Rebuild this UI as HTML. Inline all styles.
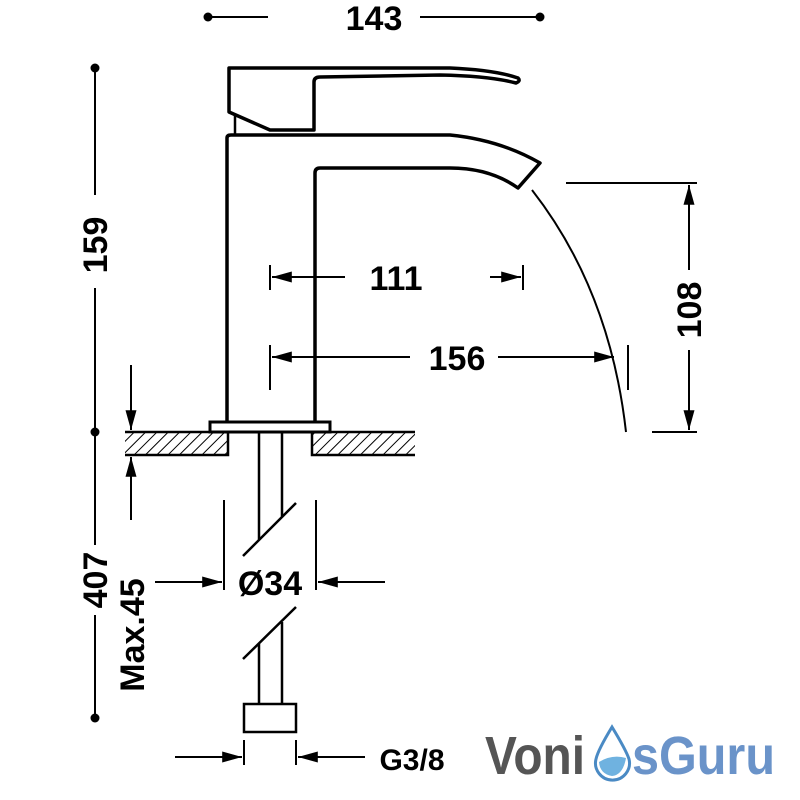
<!DOCTYPE html>
<html><head><style>body{margin:0;background:#fff}svg{display:block}</style></head><body>
<svg width="800" height="800" viewBox="0 0 800 800" xmlns="http://www.w3.org/2000/svg" font-family="Liberation Sans, sans-serif" font-weight="bold">
<defs>
<pattern id="h" width="8" height="8" patternUnits="userSpaceOnUse" patternTransform="rotate(45)"><line x1="0" y1="0" x2="0" y2="8" stroke="#000" stroke-width="2"/></pattern>
<marker id="a" viewBox="0 0 18 10" refX="18" refY="5" markerWidth="20" markerHeight="11" markerUnits="userSpaceOnUse" orient="auto"><path d="M0,0L18,5L0,10z"/></marker>
</defs>
<g fill="none" stroke="#000">
<path d="M229,68 H450 Q495,70 518,78 Q521,81 516,83 Q490,76 440,75 L320,77 Q314,77 314,82 V130 L270,130 L229,112 Z" stroke-width="3.5" stroke-linejoin="round"/>
<line x1="235" y1="115" x2="235" y2="134" stroke-width="2.5"/>
<path d="M227,422 V138 Q227,135 231,135 H450 Q500,140 540,163 L518,188 Q490,168 450,168 H320 Q315,168 315,173 V422" stroke-width="3.5" stroke-linejoin="round"/>
<rect x="210" y="422" width="120" height="10" stroke-width="3"/>
<rect x="125" y="432" width="103" height="23" fill="url(#h)" stroke="none"/>
<rect x="312" y="432" width="103" height="23" fill="url(#h)" stroke="none"/>
<path d="M125,432 H210 M330,432 H415 M125,455 H228 V432 M312,432 V455 H415" stroke-width="2.5"/>
<path d="M259,432 V540 M282,432 V517 M243,556 L296,503 M243,659 L296,607 M259,643 V705 M282,622 V705" stroke-width="2.5"/>
<rect x="244" y="704" width="52" height="28" stroke-width="2.5"/>
<path d="M532,190 Q610,290 626,432" stroke-width="2"/>
<g stroke-width="2">
<line x1="208" y1="17" x2="268" y2="17"/><line x1="420" y1="17" x2="540" y2="17"/>
<line x1="95" y1="68" x2="95" y2="195"/><line x1="95" y1="288" x2="95" y2="545"/><line x1="95" y1="615" x2="95" y2="718"/>
<line x1="131" y1="365" x2="131" y2="430" marker-end="url(#a)"/>
<line x1="131" y1="520" x2="131" y2="457" marker-end="url(#a)"/>
<line x1="270" y1="265" x2="270" y2="290"/><line x1="523" y1="265" x2="523" y2="290"/>
<line x1="345" y1="277" x2="272" y2="277" marker-end="url(#a)"/><line x1="490" y1="277" x2="521" y2="277" marker-end="url(#a)"/>
<line x1="270" y1="345" x2="270" y2="390"/><line x1="628" y1="345" x2="628" y2="390"/>
<line x1="410" y1="357" x2="272" y2="357" marker-end="url(#a)"/><line x1="498" y1="357" x2="614" y2="357" marker-end="url(#a)"/>
<line x1="566" y1="183" x2="697" y2="183"/><line x1="652" y1="432" x2="697" y2="432"/>
<line x1="689" y1="270" x2="689" y2="185" marker-end="url(#a)"/><line x1="689" y1="350" x2="689" y2="430" marker-end="url(#a)"/>
<line x1="224" y1="500" x2="224" y2="590"/><line x1="316" y1="500" x2="316" y2="590"/>
<line x1="155" y1="582" x2="222" y2="582" marker-end="url(#a)"/><line x1="385" y1="582" x2="318" y2="582" marker-end="url(#a)"/>
<line x1="244" y1="740" x2="244" y2="765"/><line x1="296" y1="740" x2="296" y2="765"/>
<line x1="175" y1="757" x2="242" y2="757" marker-end="url(#a)"/><line x1="365" y1="757" x2="298" y2="757" marker-end="url(#a)"/>
</g>
</g>
<g fill="#000">
<circle cx="208" cy="17" r="4.5"/><circle cx="540" cy="17" r="4.5"/>
<circle cx="95" cy="68" r="4.5"/><circle cx="95" cy="432" r="4.5"/><circle cx="95" cy="718" r="4.5"/>
</g>
<g font-size="34" text-anchor="middle" fill="#000">
<text x="374" y="30">143</text>
<text x="396" y="290">111</text>
<text x="457" y="370">156</text>
<text x="270" y="595">Ø34</text>
<text x="412" y="770" font-size="30">G3/8</text>
<text transform="translate(107,245) rotate(-90)">159</text>
<text transform="translate(107,580) rotate(-90)">407</text>
<text transform="translate(144,635) rotate(-90)">Max.45</text>
<text transform="translate(701,310) rotate(-90)">108</text>
</g>
<g font-size="54">
<text x="485" y="774" fill="#555" textLength="100" lengthAdjust="spacingAndGlyphs">Voni</text>
<path d="M612,727 Q598,750 596,759 A17,17 0 1 0 629,759 Q626,750 612,727Z" fill="#fff" stroke="#4a8ac4" stroke-width="3"/>
<path d="M599,762 Q612,754 626,758 Q623,775 612,776 Q600,774 599,762Z" fill="#6fb2e0"/>
<text x="632" y="774" fill="#6a93c9" textLength="143" lengthAdjust="spacingAndGlyphs">sGuru</text>
</g>
</svg>
</body></html>
